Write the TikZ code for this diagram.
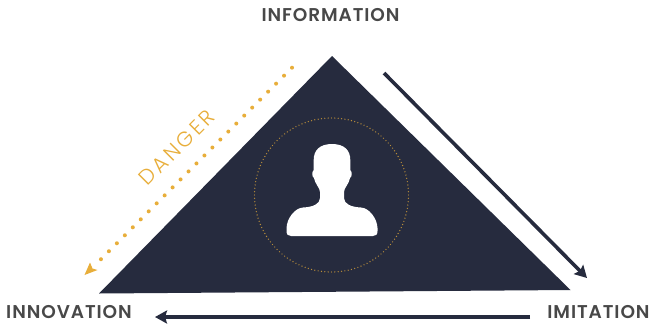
\documentclass[tikz,border=0pt]{standalone}
\usepackage{fontspec}
\setmainfont{Poppins}
\newfontfamily\lightf[LetterSpace=14]{Poppins Light}
\newfontfamily\medf[LetterSpace=5]{Poppins SemiBold}
\usetikzlibrary{arrows.meta}
\definecolor{navy}{HTML}{262B3E}
\definecolor{gold}{HTML}{E8AE3A}
\definecolor{labelgrey}{HTML}{484848}
\tikzset{
  x=1pt,y=-1pt,
  corner/.style={text=labelgrey,font=\medf\fontsize{18.5}{18.5}\selectfont,inner sep=0pt},
  flow/.style={draw=navy,line width=3.6pt,-{Stealth[length=12pt,width=13pt,inset=2pt]}},
}
\begin{document}
\begin{tikzpicture}
\useasboundingbox (0,0) rectangle (650,325);
\fill[white] (0,0) rectangle (650,325);
\coordinate (apex) at (332,56);
\coordinate (left) at (99,293.5);
\coordinate (right) at (570.5,290);
\fill[navy] (apex) -- (right) -- (left) -- cycle;
% dotted ring
\foreach \a in {0,2.5,...,357.5}
  \fill[gold!75!navy] ({331.5+77*cos(\a)},{195+77*sin(\a)}) circle (0.7);
% person
\fill[white] (332,144)
  .. controls (320,144) and (313.7,150) .. (313.7,160)
  -- (313.7,170)
  .. controls (311.5,172) and (312,177) .. (314,178)
  .. controls (315,184) and (320,188) .. (320,192)
  -- (320,198)
  .. controls (320,204) and (313,207) .. (303,207.5)
  .. controls (295,208) and (287,218) .. (286.5,228)
  -- (286.5,231)
  .. controls (286.5,234.5) and (288,236) .. (291,236)
  -- (373,236)
  .. controls (376,236) and (377.5,234.5) .. (377.5,231)
  -- (377.5,228)
  .. controls (377,218) and (369,208) .. (361,207.5)
  .. controls (351,207) and (344,204) .. (344,198)
  -- (344,192)
  .. controls (344,188) and (349,184) .. (350,178)
  .. controls (352,177) and (352.5,172) .. (350.3,170)
  -- (350.3,160)
  .. controls (350.3,150) and (344,144) .. (332,144) -- cycle;
% danger dots
\foreach \i in {0,...,24}
  \fill[gold] ({292-7.96*\i},{67.7+7.98*\i}) circle (2);
\fill[gold] (84.5,275) -- (90,262.5) -- (92.5,268.5) -- (97.5,270) -- cycle;
\node[font=\lightf\fontsize{21}{21}\selectfont,text=gold,rotate=45,inner sep=0pt] (danger) at (177,147.5) {DANGER};
% arrows
\coordinate (a1s) at (384,73);
\coordinate (a1e) at (587,278);
\coordinate (a2s) at (530,317);
\coordinate (a2e) at (155,317);
\draw[flow] (a1s) -- (a1e);
\draw[flow] (a2s) -- (a2e);
% labels
\node[corner] (information) at (330.5,15) {INFORMATION};
\node[corner] (innovation) at (69,312.5) {INNOVATION};
\node[corner] (imitation) at (598.5,312) {IMITATION};
\end{tikzpicture}
\end{document}
